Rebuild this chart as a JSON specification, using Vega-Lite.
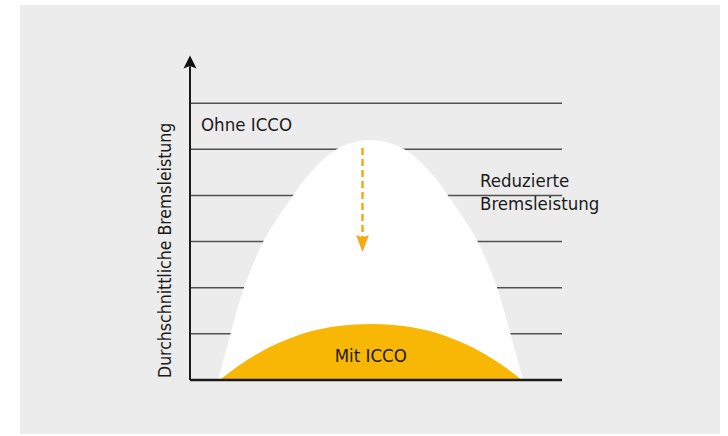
{
  "$schema": "https://vega.github.io/schema/vega-lite/v6.json",
  "width": 372,
  "height": 323,
  "autosize": {"type": "none"},
  "padding": {"left": 190, "top": 57, "right": 166, "bottom": 56},
  "background": "white",
  "config": {"view": {"stroke": null}, "font": "DejaVu Sans Condensed, sans-serif"},
  "datasets": {
    "ohne": [
      {"pos": 7.525, "leistung": 0},
      {"pos": 9.273, "leistung": 0.52},
      {"pos": 10.886, "leistung": 0.997},
      {"pos": 12.5, "leistung": 1.474},
      {"pos": 14.38, "leistung": 1.972},
      {"pos": 16.8, "leistung": 2.482},
      {"pos": 19.488, "leistung": 2.969},
      {"pos": 23.52, "leistung": 3.507},
      {"pos": 27.418, "leistung": 3.966},
      {"pos": 31.047, "leistung": 4.371},
      {"pos": 35.079, "leistung": 4.727},
      {"pos": 39.111, "leistung": 4.985},
      {"pos": 43.144, "leistung": 5.13},
      {"pos": 45.832, "leistung": 5.184},
      {"pos": 48.52, "leistung": 5.2016},
      {"pos": 51.208, "leistung": 5.184},
      {"pos": 53.896, "leistung": 5.13},
      {"pos": 57.929, "leistung": 4.985},
      {"pos": 61.961, "leistung": 4.727},
      {"pos": 65.993, "leistung": 4.371},
      {"pos": 69.622, "leistung": 3.966},
      {"pos": 73.52, "leistung": 3.507},
      {"pos": 77.552, "leistung": 2.969},
      {"pos": 80.24, "leistung": 2.482},
      {"pos": 82.66, "leistung": 1.972},
      {"pos": 84.54, "leistung": 1.474},
      {"pos": 86.154, "leistung": 0.997},
      {"pos": 87.767, "leistung": 0.52},
      {"pos": 89.515, "leistung": 0}
    ],
    "mit": [
      {"pos": 8.009, "leistung": 0},
      {"pos": 9.353, "leistung": 0.0867},
      {"pos": 10.966, "leistung": 0.1864},
      {"pos": 13.654, "leistung": 0.3403},
      {"pos": 17.686, "leistung": 0.5462},
      {"pos": 21.718, "leistung": 0.7239},
      {"pos": 27.095, "leistung": 0.9124},
      {"pos": 32.471, "leistung": 1.0555},
      {"pos": 37.847, "leistung": 1.1487},
      {"pos": 43.224, "leistung": 1.1985},
      {"pos": 48.6, "leistung": 1.2137},
      {"pos": 53.976, "leistung": 1.1985},
      {"pos": 59.353, "leistung": 1.1487},
      {"pos": 64.729, "leistung": 1.0555},
      {"pos": 70.105, "leistung": 0.9124},
      {"pos": 75.482, "leistung": 0.7239},
      {"pos": 79.514, "leistung": 0.5462},
      {"pos": 83.546, "leistung": 0.3403},
      {"pos": 86.234, "leistung": 0.1864},
      {"pos": 87.847, "leistung": 0.0867},
      {"pos": 89.191, "leistung": 0}
    ],
    "grid": [{"level": 1}, {"level": 2}, {"level": 3}, {"level": 4}, {"level": 5}, {"level": 6}],
    "labels": [
      {"text": "Ohne ICCO", "pos": 2.96, "leistung": 5.4},
      {"text": "Reduzierte", "pos": 77.96, "leistung": 4.18},
      {"text": "Bremsleistung", "pos": 77.96, "leistung": 3.68}
    ],
    "center": [{"text": "Mit ICCO", "pos": 48.6, "leistung": 0.39}]
  },
  "encoding": {
    "x": {"type": "quantitative", "scale": {"domain": [0, 100], "nice": false, "zero": false}, "axis": null},
    "y": {"type": "quantitative", "scale": {"domain": [0, 7], "nice": false, "zero": false}, "axis": null}
  },
  "layer": [
    {
      "data": {"values": [{}]},
      "mark": {"type": "rect", "fill": "#ececec"},
      "encoding": {"x": {"datum": -45.7}, "x2": {"datum": 142.5}, "y": {"datum": -1.17}, "y2": {"datum": 8.127}}
    },
    {
      "data": {"name": "grid"},
      "mark": {"type": "rule", "stroke": "#505050", "strokeWidth": 1.5},
      "encoding": {"x": {"datum": 0}, "x2": {"datum": 100}, "y": {"field": "level", "type": "quantitative"}}
    },
    {
      "data": {"name": "ohne"},
      "mark": {"type": "area", "fill": "white", "interpolate": "monotone"},
      "encoding": {"x": {"field": "pos", "type": "quantitative"}, "y": {"field": "leistung", "type": "quantitative"}}
    },
    {
      "data": {"name": "mit"},
      "mark": {"type": "area", "fill": "#f8b605", "interpolate": "monotone"},
      "encoding": {"x": {"field": "pos", "type": "quantitative"}, "y": {"field": "leistung", "type": "quantitative"}}
    },
    {
      "data": {"values": [{}]},
      "mark": {"type": "rule", "stroke": "#f7a812", "strokeWidth": 2.5, "strokeDash": [7, 4]},
      "encoding": {"x": {"datum": 46.37}, "y": {"datum": 5.03}, "y2": {"datum": 3.0}}
    },
    {
      "data": {"values": [{}]},
      "mark": {"type": "point", "filled": true, "fill": "#f7a812", "opacity": 1, "strokeWidth": 0, "size": 289, "shape": "M0,1L-0.75,-1L0,-0.7L0.75,-1Z"},
      "encoding": {"x": {"datum": 46.37}, "y": {"datum": 2.958}}
    },
    {
      "data": {"values": [{}]},
      "mark": {"type": "rule", "stroke": "#1a1a1a", "strokeWidth": 2.5},
      "encoding": {"x": {"datum": 0}, "x2": {"datum": 100}, "y": {"datum": 0}}
    },
    {
      "data": {"values": [{}]},
      "mark": {"type": "rule", "stroke": "#1a1a1a", "strokeWidth": 2},
      "encoding": {"x": {"datum": 0}, "y": {"datum": 0}, "y2": {"datum": 6.8}}
    },
    {
      "data": {"values": [{}]},
      "mark": {"type": "point", "filled": true, "fill": "#111111", "opacity": 1, "strokeWidth": 0, "size": 169, "shape": "M0,-1L1,1L0,0.6L-1,1Z"},
      "encoding": {"x": {"datum": 0}, "y": {"datum": 6.89}}
    },
    {
      "data": {"name": "labels"},
      "mark": {"type": "text", "align": "left", "baseline": "alphabetic", "fontSize": 18.5, "fill": "#1a1a1a"},
      "encoding": {"x": {"field": "pos", "type": "quantitative"}, "y": {"field": "leistung", "type": "quantitative"}, "text": {"field": "text"}}
    },
    {
      "data": {"name": "center"},
      "mark": {"type": "text", "align": "center", "baseline": "alphabetic", "fontSize": 18.5, "fill": "#1a1a1a"},
      "encoding": {"x": {"field": "pos", "type": "quantitative"}, "y": {"field": "leistung", "type": "quantitative"}, "text": {"field": "text"}}
    },
    {
      "data": {"values": [{"text": "Durchschnittliche Bremsleistung"}]},
      "mark": {"type": "text", "align": "center", "baseline": "middle", "angle": 270, "fontSize": 17.5, "fill": "#1a1a1a"},
      "encoding": {"x": {"datum": -6.32}, "y": {"datum": 2.81}, "text": {"field": "text"}}
    }
  ]
}
